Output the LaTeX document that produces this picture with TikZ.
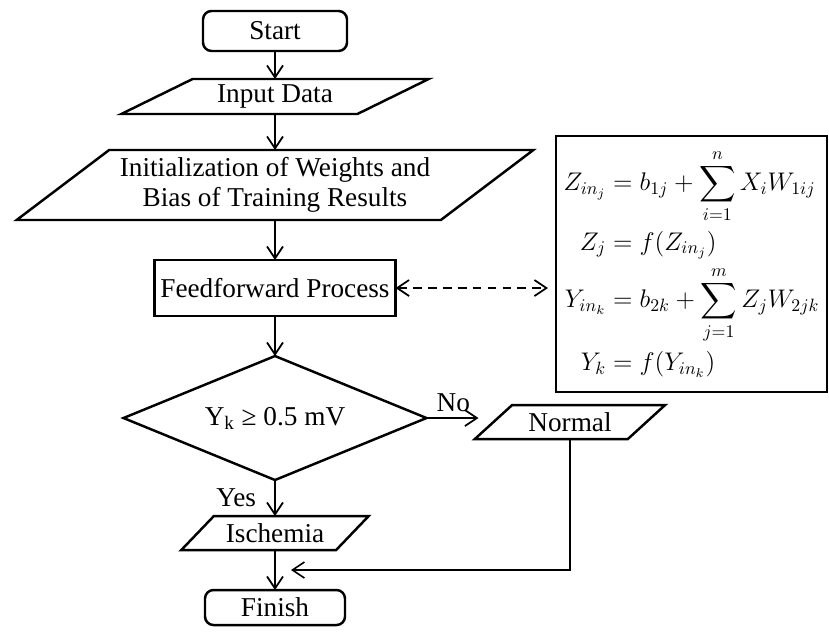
\documentclass[tikz,border=0pt]{standalone}
\usepackage{fix-cm}
\usepackage{amsmath}
\usepackage{fontspec}
\setmainfont{Liberation Serif}
\usetikzlibrary{positioning}
\usetikzlibrary{arrows.meta}
\usetikzlibrary{shapes.geometric}
\usetikzlibrary{calc}
\tikzset{
        flownode/.style={align=center, inner sep=2pt, outer sep=0pt, draw=black, line width=1.4pt, fill=white,
                         font=\fontsize{15.5}{17}\selectfont},
        % Start and finish
        node_terminal/.style={flownode, rectangle, rounded corners=0.17cm, minimum width=2.88cm, minimum height=0.8cm},
        % Data in and out
        node_io/.style 2 args={flownode, trapezium, trapezium stretches=true,
                               trapezium left angle=#1, trapezium right angle=#2},
        % Process
        node_process/.style={flownode, rectangle, minimum width=4.82cm, minimum height=1.12cm},
        % Decision
        node_decision/.style={flownode, diamond, shape aspect=2.42, inner sep=0pt, minimum width=6.06cm, minimum height=2.48cm},
        % Formula box
        node_formula/.style={flownode, rectangle, minimum width=5.42cm, minimum height=5.12cm,
                             font=\fontsize{14.5}{16}\selectfont},
        flowarrow/.style={-{Straight Barb[length=2.4mm, width=3.2mm]}, line width=1pt}
}

\begin{document}
\begin{tikzpicture}[
            node distance=0.7cm
        ]
            \useasboundingbox (0,0) rectangle (16.58,-12.62);

            \node[node_terminal] (start) at (5.5,-0.62) {Start};
            \node[node_io={30}{150}, minimum width=6.16cm, minimum height=0.7cm, below=0.56cm of start] (input) {Input Data};
            \node[node_io={35}{145}, minimum width=10.38cm, minimum height=1.4cm, below=0.72cm of input] (init)
                {Initialization of Weights and\\Bias of Training Results};
            \node[node_process, below=0.8cm of init] (ff) {Feedforward Process};
            \node[node_decision, below=0.8cm of ff] (dec) {Y\textsubscript{k} ≥ 0.5 mV};
            \node[node_io={42}{138}, minimum width=3.82cm, minimum height=0.68cm, right=1.34cm of dec, yshift=-0.08cm] (nrm) {Normal};
            \node[node_io={43}{137}, minimum width=3.78cm, minimum height=0.68cm, below=0.72cm of dec] (isch) {Ischemia};
            \node[node_terminal, minimum width=2.8cm, minimum height=0.7cm, below=0.8cm of isch] (fin) {Finish};

            % feedforward equations
            \node[node_formula] (eqs) at (13.83,-5.28) {$\begin{aligned}
                Z_{in_j} &= b_{1j} + \sum_{i=1}^{n} X_i W_{1ij}\\
                Z_j &= f(Z_{in_j})\\
                Y_{in_k} &= b_{2k} + \sum_{j=1}^{m} Z_j W_{2jk}\\
                Y_k &= f(Y_{in_k})
            \end{aligned}$};

            \coordinate (merge) at ($(isch.south)!0.5!(fin.north)$);

            \draw[flowarrow] (start) -- (input);
            \draw[flowarrow] (input) -- (init);
            \draw[flowarrow] (init) -- (ff);
            \draw[flowarrow] (ff) -- (dec);
            \draw[flowarrow, {Straight Barb[length=2.4mm, width=3.2mm]}-{Straight Barb[length=2.4mm, width=3.2mm]},
                  dash pattern=on 5pt off 3.5pt, shorten >=0.16cm] (ff.east) -- (ff.east -| eqs.west);
            \draw[flowarrow, shorten >=0.3cm] (dec.east) -- node[above, pos=0.4, font=\fontsize{15.5}{17}\selectfont]{No}
                (dec.east -| nrm.west);
            \draw[flowarrow] (dec.south) -- node[left=7pt, font=\fontsize{15.5}{17}\selectfont]{Yes} (isch.north);
            \draw[flowarrow] (isch.south) -- (fin.north);
            \draw[flowarrow, line width=0.9pt] (nrm.south) |- ([xshift=0.32cm]merge);
        \end{tikzpicture}
\end{document}
